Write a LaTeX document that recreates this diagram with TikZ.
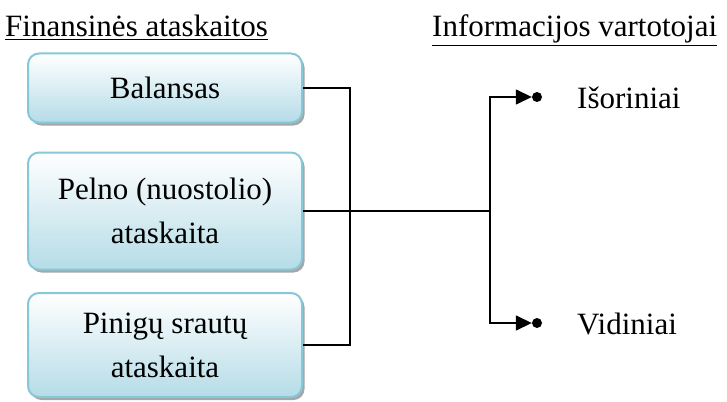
\documentclass[tikz,border=0pt]{standalone}
\usepackage{fontspec}
\setmainfont{Liberation Serif}
\usepackage{xcolor}
\usetikzlibrary{arrows.meta, positioning, calc, shadows}

\definecolor{boxline}{HTML}{86C8D8}
\definecolor{boxfill}{HTML}{B5DCE7}

\tikzset{
  repbox/.style={draw=boxline, line width=2pt, rounded corners=11pt,
    top color=white, bottom color=boxfill, minimum width=274pt,
    align=center, inner sep=0pt,
    font=\fontsize{31}{44}\selectfont,
    drop shadow={shadow xshift=2.5pt, shadow yshift=-3pt, fill=gray!70, opacity=1}},
  heading/.style={anchor=base west, inner sep=0pt, font=\fontsize{31}{36}\selectfont},
  user/.style={anchor=west, inner sep=0pt, font=\fontsize{31}{36}\selectfont},
  dot/.style={circle, fill=black, inner sep=0pt, minimum size=10pt},
  link/.style={line width=1.5pt}
}

\begin{document}
\begin{tikzpicture}[x=1pt, y=-1pt]
\useasboundingbox (0,0) rectangle (727,401);
% headings
\node[heading] (hfin) at (5,37) {\underline{Finansinės ataskaitos}};
\node[heading] (hinf) at (432,37) {\underline{Informacijos vartotojai}};
% statements
\node[repbox, minimum height=69pt] (bal) at (165,88) {Balansas};
\node[repbox, minimum height=117pt] (pel) at (165,211) {Pelno (nuostolio)\\ataskaita};
\node[repbox, minimum height=104pt] (pin) at (165,345) {Pinigų srautų\\ataskaita};
% users
\node[dot] (d1) at (537,97) {};
\node[dot] (d2) at (537,323) {};
\node[user] (isor) at (577,98) {Išoriniai};
\node[user] (vid) at (577,324) {Vidiniai};
% connectors
\coordinate (j1) at (350,211);
\coordinate (j2) at (490,211);
\draw[link] (bal.east) -| (j1) |- (pin.east);
\draw[link] (pel.east) -- (j2);
\draw[link, -{Triangle[length=16pt, width=15pt]}] (j2) |- (d1.west);
\draw[link, -{Triangle[length=16pt, width=15pt]}] (j2) |- (d2.west);
\end{tikzpicture}
\end{document}
